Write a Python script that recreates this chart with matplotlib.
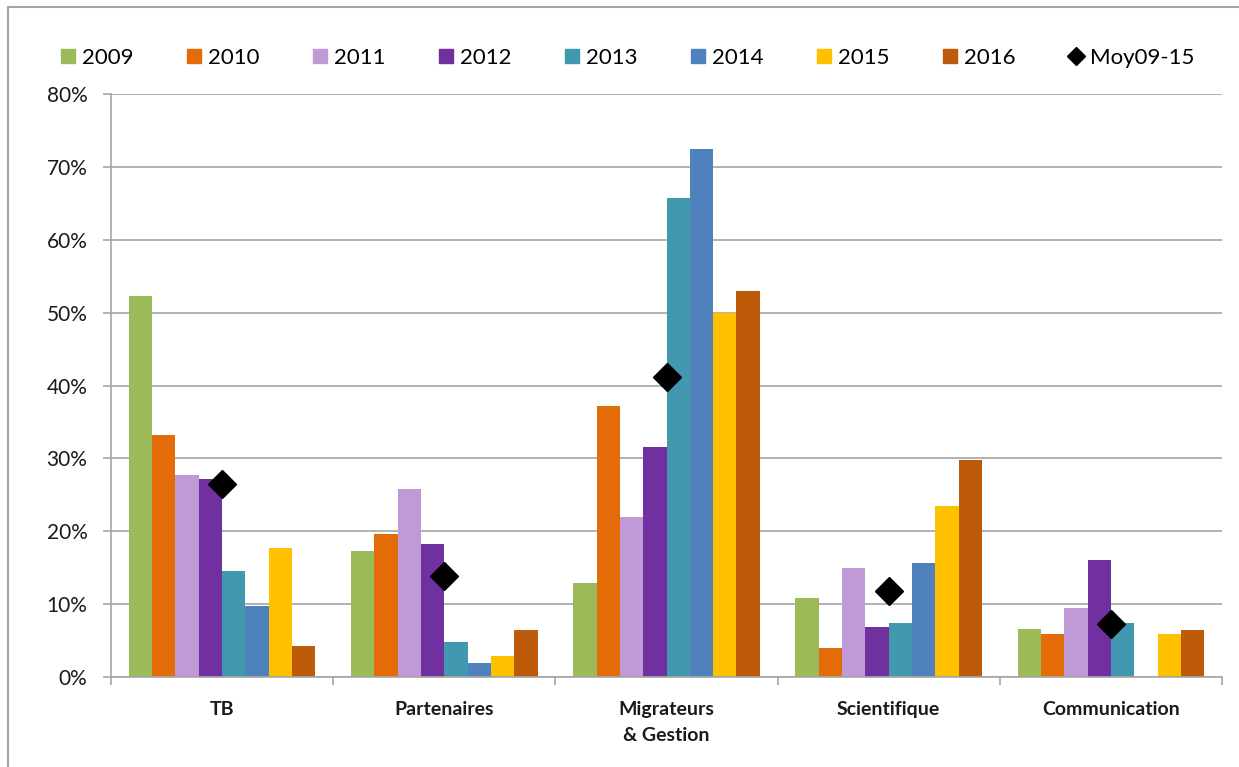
import numpy as np
import matplotlib.pyplot as plt
from matplotlib.lines import Line2D

plt.rcParams['font.family'] = ['Lato', 'DejaVu Sans']

categories = ["TB", "Partenaires", "Migrateurs\n& Gestion", "Scientifique", "Communication"]
years = ["2009", "2010", "2011", "2012", "2013", "2014", "2015", "2016"]

# values in % per year, one entry per category
v2009 = [52.3, 17.3, 12.9, 10.9, 6.6]
v2010 = [33.2, 19.6, 37.2, 4.0, 5.9]
v2011 = [27.7, 25.8, 22.0, 14.9, 9.4]
v2012 = [27.2, 18.2, 31.6, 6.9, 16.1]
v2013 = [14.6, 4.8, 65.7, 7.4, 7.4]
v2014 = [9.7, 1.9, 72.4, 15.7, 0.0]
v2015 = [17.7, 2.9, 50.0, 23.5, 5.9]
v2016 = [4.3, 6.4, 53.0, 29.8, 6.4]
moy09_15 = [26.5, 13.8, 41.2, 11.8, 7.3]

series = [v2009, v2010, v2011, v2012, v2013, v2014, v2015, v2016]
colors = ['#9BBB59', '#E36C09', '#C09AD6', '#7030A0', '#4198AF', '#4F81BD', '#FFC000', '#BE5B0B']

fig = plt.figure(figsize=(12.39, 7.67), dpi=100)
ax = fig.add_axes([111/1239, 1-677/767, (1222-111)/1239, (677-94)/767])

x = np.arange(len(categories))
w = 0.105
for i, (vals, c, lab) in enumerate(zip(series, colors, years)):
    ax.bar(x + (i - 3.5) * w, vals, width=w, color=c, label=lab, zorder=2)
ax.plot(x, moy09_15, linestyle='none', marker='D', markersize=14.5, color='black',
        label='Moy09-15', zorder=3)

ax.set_xlim(-0.5, len(categories) - 0.5)
ax.set_ylim(0, 80)
ax.set_yticks(np.arange(0, 81, 10))
ax.set_yticklabels([f"{t}%" for t in range(0, 81, 10)], fontsize=15, color='#1a1a1a')
ax.yaxis.grid(True, color='#A6A6A6', linewidth=1.2, zorder=0)
ax.set_axisbelow(True)

ax.set_xticks(np.arange(-0.5, len(categories), 1.0))
ax.set_xticklabels([])
ax.set_xticks(x, minor=True)
ax.set_xticklabels(categories, minor=True, fontsize=14, fontweight='bold', color='#1a1a1a',
                   linespacing=1.65)
ax.tick_params(axis='x', which='minor', length=0, pad=17)
ax.tick_params(axis='x', which='major', length=6, color='#A6A6A6', width=1.2)
ax.tick_params(axis='y', length=6, color='#A6A6A6', width=1.2, pad=11)

for s in ['top', 'right']:
    ax.spines[s].set_visible(False)
for s in ['left', 'bottom']:
    ax.spines[s].set_color('#A6A6A6')
    ax.spines[s].set_linewidth(1.2)

handles = [Line2D([], [], linestyle='none', marker='s', markersize=10, color=c) for c in colors]
handles.append(Line2D([], [], linestyle='none', marker='D', markersize=9, color='black'))
fig.legend(handles, years + ['Moy09-15'], loc='center', bbox_to_anchor=(0.505, 1-58/767),
           ncol=9, frameon=False, fontsize=16, handletextpad=0.15, columnspacing=2.2,
           handlelength=1.0)

# outer chart border
fig.add_artist(Line2D([8/1239, 8/1239], [0, 1-7/767], color='#A6A6A6', linewidth=1.5))
fig.add_artist(Line2D([8/1239, 1], [1-7/767, 1-7/767], color='#A6A6A6', linewidth=1.5))

fig.savefig('out.png', dpi=100)
